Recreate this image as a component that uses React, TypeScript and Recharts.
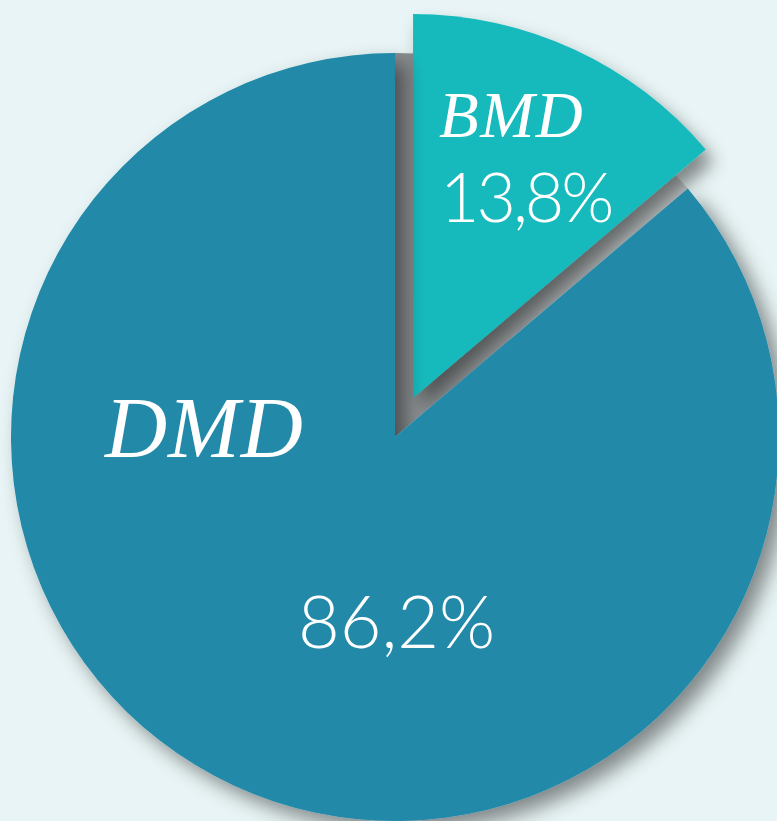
import React from 'react';
import { PieChart, Pie, Sector } from 'recharts';

const names = ['BMD', 'DMD'];
const values = [13.8, 86.2];
const colors = ['#18babd', '#2189a9'];

const data = names.map((name, i) => ({ name, value: values[i], fill: colors[i] }));

const RAD = Math.PI / 180;
const EXPLODE = 43;
const W = 777;
const H = 821;
const CX = 395;
const CY = 437;
const R = 384;

const fmt = (v: number) => v.toFixed(1).replace('.', ',') + '%';

function Defs() {
  return (
    <defs>
      <filter id="shadowMain" x="-20%" y="-20%" width="140%" height="140%">
        <feDropShadow dx="10" dy="10" stdDeviation="10" floodColor="#000" floodOpacity="0.45" />
      </filter>
      <filter id="shadowSlice" x="-30%" y="-30%" width="160%" height="160%">
        <feDropShadow dx="8" dy="12" stdDeviation="9" floodColor="#000" floodOpacity="0.45" />
      </filter>
      <linearGradient id="holeGrad" x1="0" y1="0" x2="1" y2="0">
        <stop offset="0%" stopColor="#8a8e90" />
        <stop offset="100%" stopColor="#c9d0d1" />
      </linearGradient>
    </defs>
  );
}

function SliceShape(props: any) {
  const { cx, cy, innerRadius, outerRadius, startAngle, endAngle, midAngle, fill, index } = props;
  if (index === 0) {
    const dx = EXPLODE * Math.cos(-midAngle * RAD);
    const dy = EXPLODE * Math.sin(-midAngle * RAD);
    return (
      <g>
        <Defs />
        <Sector cx={cx} cy={cy} innerRadius={innerRadius} outerRadius={outerRadius}
          startAngle={startAngle} endAngle={endAngle} fill="url(#holeGrad)" />
        <Sector cx={cx + dx} cy={cy + dy} innerRadius={innerRadius} outerRadius={outerRadius}
          startAngle={startAngle} endAngle={endAngle} fill={fill} filter="url(#shadowSlice)" />
      </g>
    );
  }
  return (
    <Sector cx={cx} cy={cy} innerRadius={innerRadius} outerRadius={outerRadius}
      startAngle={startAngle} endAngle={endAngle} fill={fill} filter="url(#shadowMain)" />
  );
}

const labelLayout = [
  { nx: 44, ny: -300, px: 45, py: -215, nameSize: 65, pctSize: 68, nameSp: 1.5, pctSp: -3 },
  { nx: -290, ny: 20, px: -97, py: 211, nameSize: 86, pctSize: 72, nameSp: 1, pctSp: 0 },
];

function renderLabel(props: any) {
  const { cx, cy, index, name, value } = props;
  const l = labelLayout[index];
  return (
    <g>
      <text x={cx + l.nx} y={cy + l.ny} fill="#ffffff" textAnchor="start"
        style={{ fontFamily: '"Liberation Serif", serif', fontStyle: 'italic', fontSize: l.nameSize, letterSpacing: l.nameSp }}>
        {name}
      </text>
      <text x={cx + l.px} y={cy + l.py} fill="#ffffff" textAnchor="start"
        style={{ fontFamily: 'Lato, sans-serif', fontWeight: 300, fontSize: l.pctSize, letterSpacing: l.pctSp }}>
        {fmt(value)}
      </text>
    </g>
  );
}

export default function App() {
  return (
    <div style={{ position: 'fixed', left: 0, top: 0, width: W, height: H, background: '#e8f4f5', overflow: 'hidden' }}>
      <PieChart width={W} height={H} margin={{ top: 0, right: 0, bottom: 0, left: 0 }}>
        <Pie
          data={data}
          dataKey="value"
          nameKey="name"
          cx={CX}
          cy={CY}
          innerRadius={0}
          outerRadius={R}
          startAngle={90}
          endAngle={-270}
          stroke="none"
          isAnimationActive={false}
          shape={SliceShape}
          inactiveShape={SliceShape}
          activeShape={SliceShape}
          label={renderLabel}
          labelLine={false}
        />
      </PieChart>
    </div>
  );
}
